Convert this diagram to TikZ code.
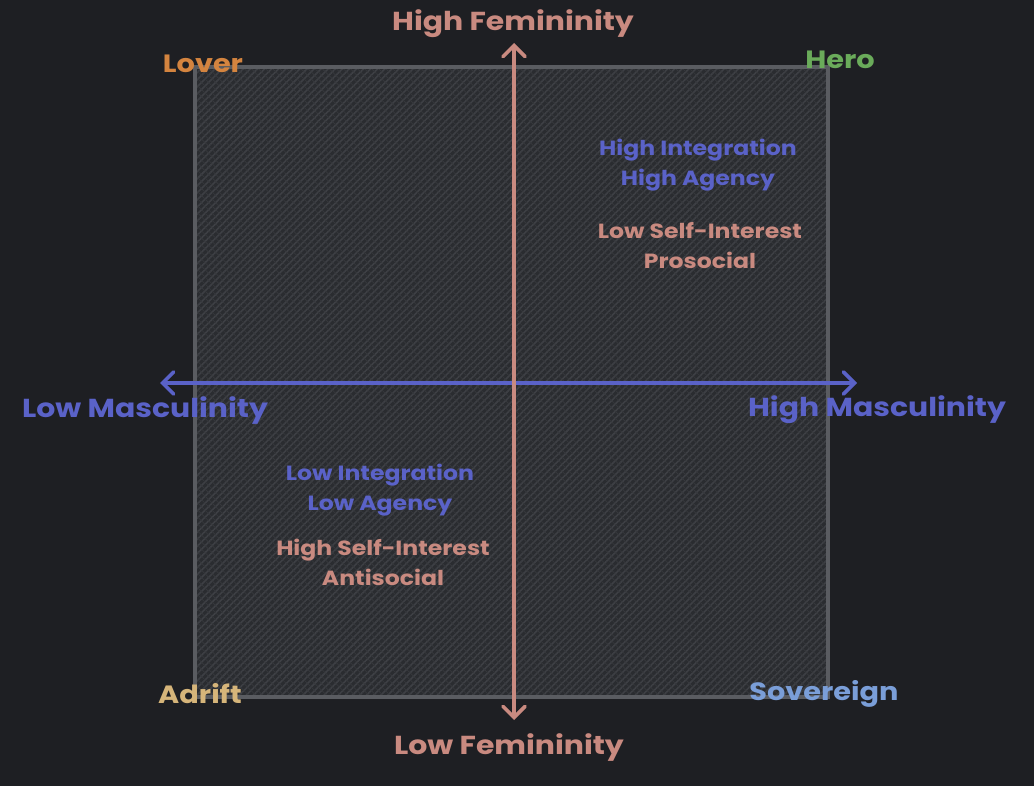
\documentclass[tikz,border=0pt]{standalone}
\usepackage{fontspec}
\setmainfont{Poppins}[FakeStretch=1.15]
\usetikzlibrary{arrows.meta,patterns.meta}
\definecolor{bg}{HTML}{1E1F23}
\definecolor{boxfill}{HTML}{2A2C30}
\definecolor{hatchA}{HTML}{3E4045}
\definecolor{hatchB}{HTML}{36383C}
\definecolor{boxline}{HTML}{5A5C61}
\definecolor{fem}{HTML}{C98A80}
\definecolor{masc}{HTML}{5A62C8}
\definecolor{lovercol}{HTML}{D4843F}
\definecolor{herocol}{HTML}{6AAB5A}
\definecolor{adriftcol}{HTML}{D6B57A}
\definecolor{sovcol}{HTML}{7A9ED8}
\tikzset{
  axislabel/.style={font=\bfseries\fontsize{26}{28}\selectfont, inner sep=0pt},
  cornerlabel/.style={font=\bfseries\fontsize{25}{27}\selectfont, inner sep=0pt},
  quadtext/.style={font=\bfseries\fontsize{20.5}{30}\selectfont, inner sep=0pt, align=center},
  axisarrow/.style={line width=3.6pt, line cap=round, {Straight Barb[length=11pt,width=22pt,line cap=round]}-{Straight Barb[length=11pt,width=22pt,line cap=round]}},
}
\begin{document}
\begin{tikzpicture}[x=1pt,y=-1pt]
\fill[bg] (0,0) rectangle (1034,786);
\useasboundingbox (0,0) rectangle (1034,786);
% square
\fill[boxfill] (195,67) rectangle (828,697);
\fill[pattern={Lines[angle=45,distance=5pt,line width=1.6pt]},pattern color=hatchA] (195,67) rectangle (828,697);
\fill[pattern={Lines[angle=-45,distance=5pt,line width=0.8pt]},pattern color=hatchB] (195,67) rectangle (828,697);
\draw[boxline, line width=4pt] (195,67) rectangle (828,697);
% axis endpoints
\coordinate (vtop) at (514,43);
\coordinate (vbot) at (514,720);
\coordinate (hleft) at (160,383);
\coordinate (hright) at (857,383);
\draw[axisarrow, masc] (hleft) -- (hright);
\draw[axisarrow, fem] (vbot) -- (vtop);
% axis labels
\node[axislabel, text=fem] (hf) at (513,24) {High Femininity};
\node[axislabel, text=fem] (lf) at (509,748) {Low Femininity};
\node[axislabel, text=masc] (lm) at (145,411) {Low Masculinity};
\node[axislabel, text=masc] (hm) at (877,410) {High Masculinity};
% corner labels
\node[cornerlabel, text=lovercol] (lover) at (203,64) {Lover};
\node[cornerlabel, text=herocol] (hero) at (840,60) {Hero};
\node[cornerlabel, text=adriftcol] (adrift) at (200,694) {Adrift};
\node[cornerlabel, text=sovcol] (sov) at (824,694) {Sovereign};
% quadrant texts
\node[quadtext, text=masc] (q1a) at (698,165) {High Integration\\High Agency};
\node[quadtext, text=fem] (q1b) at (700,246) {Low Self-Interest\\Prosocial};
\node[quadtext, text=masc] (q3a) at (380,490) {Low Integration\\Low Agency};
\node[quadtext, text=fem] (q3b) at (383,562) {High Self-Interest\\Antisocial};
\end{tikzpicture}
\end{document}
